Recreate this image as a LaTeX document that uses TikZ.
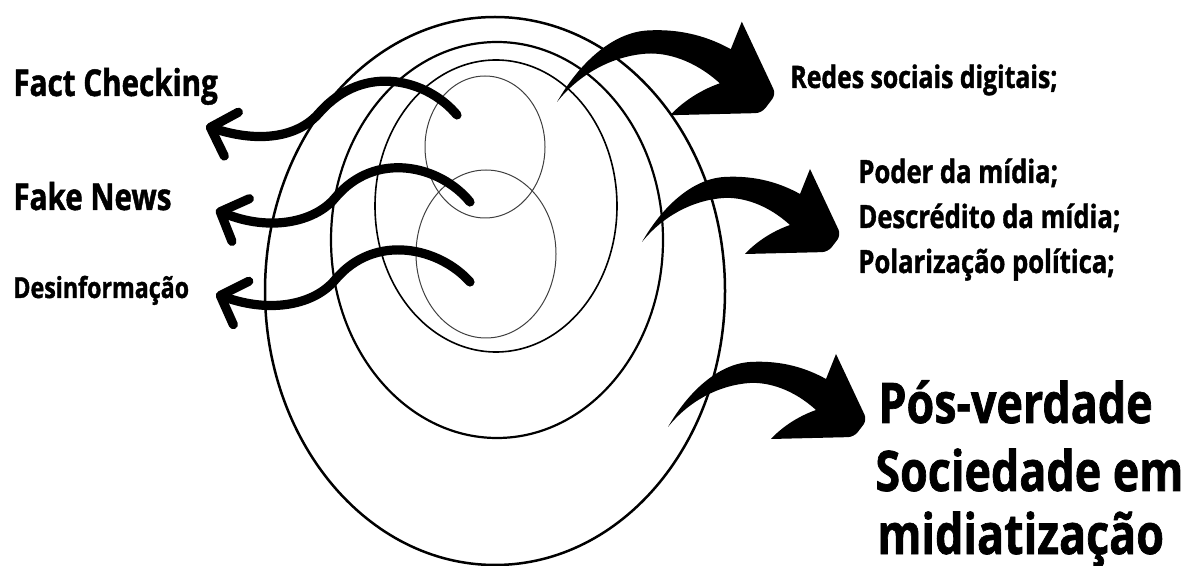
\documentclass[tikz,border=0pt]{standalone}
\usepackage{fontspec}
\setmainfont[FakeStretch=0.8, BoldFeatures={FakeBold=1.2}]{Open Sans}
\usetikzlibrary{arrows.meta}

\tikzset{
  ring/.style={draw=black, line width=#1},
  wave/.style={line width=4.6pt, line cap=round, -{Straight Barb[length=11pt, width=23pt, round]}},
  txt/.style={inner sep=0pt, anchor=base west, font=\bfseries\fontsize{#1}{#1}\selectfont},
  bigarrow/.pic={
    \fill (0,0) .. controls (20,-35) and (50,-63) .. (82,-65)
      .. controls (115,-67) and (140,-58) .. (158,-48)
      -- (168,-73) [rounded corners=3pt] -- (199,-7) -- (186,10) [sharp corners]
      -- (103,12) .. controls (112,2) and (128,-10) .. (148,-17)
      .. controls (125,-38) and (100,-45) .. (82,-44)
      .. controls (50,-42) and (20,-25) .. (0,0) -- cycle;
  }
}

\begin{document}
\begin{tikzpicture}[x=0.5pt, y=-0.5pt]
  \useasboundingbox (0,0) rectangle (1189,566);

  % the rings
  \draw[ring=1.25pt] (495,291) ellipse [x radius=230, y radius=274];
  \draw[ring=1.1pt] (497,240) ellipse [x radius=166, y radius=198];
  \draw[ring=0.8pt] (496,206) ellipse [x radius=121, y radius=146];
  \draw[ring=0.5pt, draw=black!75] (485,147) ellipse [x radius=60, y radius=71];
  \draw[ring=0.5pt, draw=black!75] (486,254) ellipse [x radius=70, y radius=84];

  % labels
  \node[txt=18.5] (fact) at (13,96) {Fact Checking};
  \node[txt=18.5] (fake) at (13,210) {Fake News};
  \node[txt=14.5] (desinf) at (13,298) {Desinformação};
  \node[txt=15.5] (redes) at (790,88) {Redes sociais digitais;};
  \node[txt=16] (poder) at (858,183) {Poder da mídia;};
  \node[txt=16] (descr) at (858,228) {Descrédito da mídia;};
  \node[txt=16] (polar) at (858,273) {Polarização política;};
  \node[txt=28] (pos) at (878,423) {Pós-verdade};
  \node[txt=28] (soc) at (875,491) {Sociedade em};
  \node[txt=28] (midia) at (877,554) {midiatização};

  % arrow ends
  \coordinate (fact-from) at (457,115);
  \coordinate (fact-to) at (206,126);
  \coordinate (fake-from) at (470,202);
  \coordinate (fake-to) at (216,210);
  \coordinate (desinf-from) at (470,282);
  \coordinate (desinf-to) at (216,294);
  \coordinate (redes-from) at (557,102);
  \coordinate (poder-from) at (642,242);
  \coordinate (pos-from) at (668,427);

  % out to the left
  \draw[wave] (fact-from) .. controls (428,80) and (365,62) .. (320,112)
    .. controls (300,136) and (262,144) .. (fact-to);
  \draw[wave] (fake-from) .. controls (440,165) and (375,150) .. (335,198)
    .. controls (315,222) and (270,232) .. (fake-to);
  \draw[wave] (desinf-from) .. controls (440,248) and (375,232) .. (335,280)
    .. controls (315,304) and (272,314) .. (desinf-to);

  % out to the right
  \pic[scale=1.1] at (redes-from) {bigarrow};
  \pic at (poder-from) {bigarrow};
  \pic at (pos-from) {bigarrow};
\end{tikzpicture}
\end{document}
